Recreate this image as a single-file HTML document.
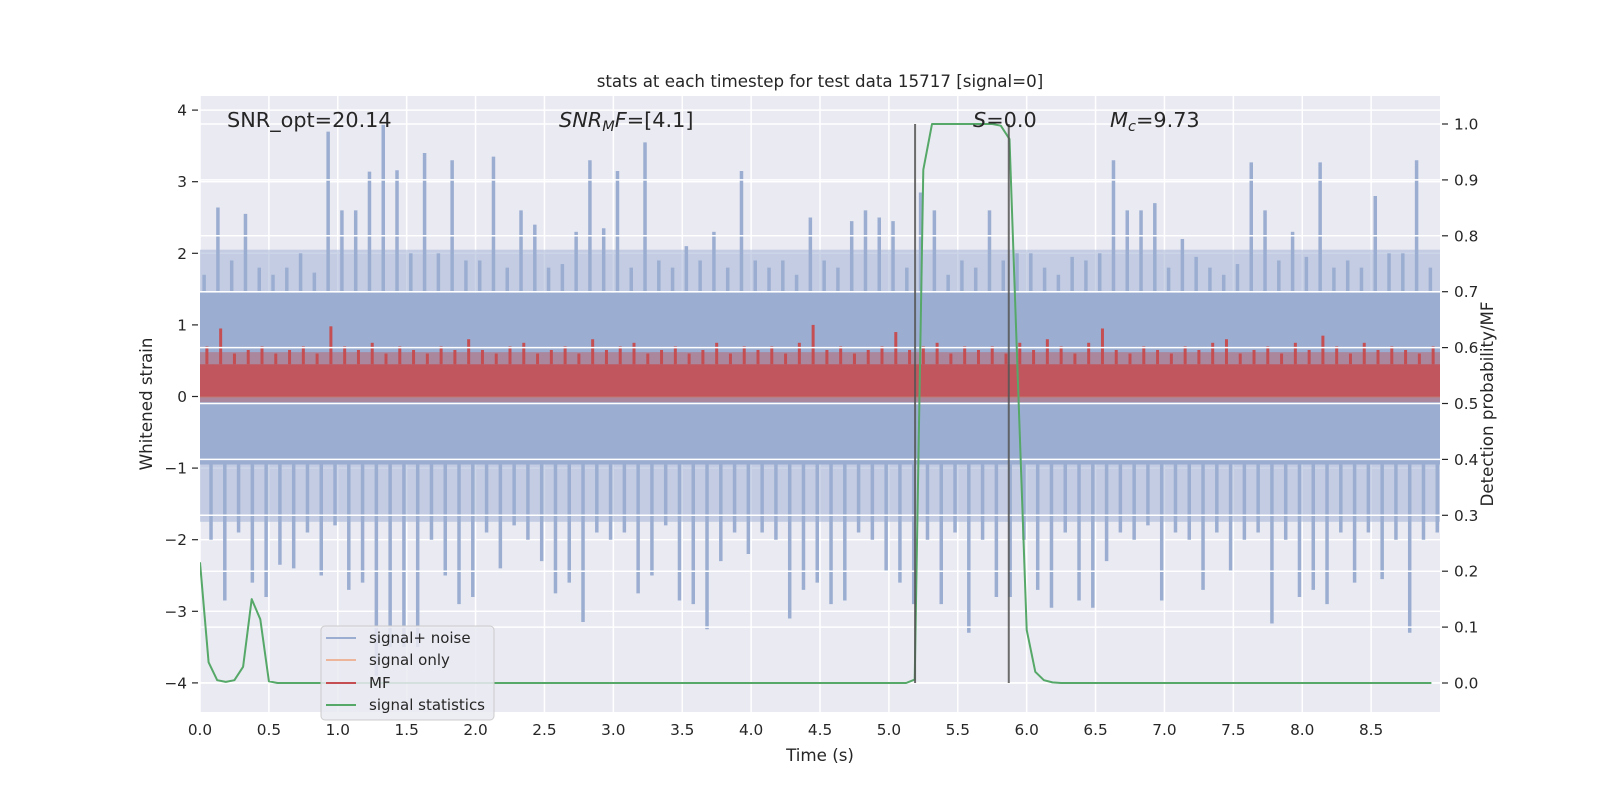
<!DOCTYPE html>
<html><head><meta charset="utf-8"><style>
html,body{margin:0;padding:0;background:#fff;}
svg{display:block;font-family:"DejaVu Sans","Liberation Sans",sans-serif;}
</style></head><body>
<svg id="chart" width="1600" height="800" viewBox="0 0 1600 800" xmlns="http://www.w3.org/2000/svg">
  <defs><clipPath id="clip"><rect x="200" y="96" width="1240" height="616"/></clipPath></defs>
  <rect x="200" y="96" width="1240" height="616" fill="#EAEAF2"/>
  <g id="gridL"></g>
  <g id="noise" clip-path="url(#clip)"></g>
  <g id="sig" clip-path="url(#clip)"></g>
  <g id="mf" clip-path="url(#clip)"></g>
  <g id="gridR"></g>
  <g id="stat" clip-path="url(#clip)"></g>
  <g id="vlines"></g>
  <g id="ticks" font-size="15.3" fill="#262626"></g>
  <text x="820" y="87" text-anchor="middle" font-size="16.7" fill="#262626">stats at each timestep for test data 15717 [signal=0]</text>
  <text x="820" y="761" text-anchor="middle" font-size="16.7" fill="#262626">Time (s)</text>
  <text transform="translate(152,404) rotate(-90)" text-anchor="middle" font-size="16.7" fill="#262626">Whitened strain</text>
  <text transform="translate(1493,404) rotate(-90)" text-anchor="middle" font-size="16.7" fill="#262626">Detection probability/MF</text>
  <g font-size="20.8" fill="#262626">
    <text x="227" y="127">SNR_opt=20.14</text>
    <text x="559" y="127"><tspan font-style="italic">SNR</tspan><tspan font-style="italic" font-size="14.5" dy="4">M</tspan><tspan font-style="italic" dy="-4">F</tspan>=[4.1]</text>
    <text x="973" y="127"><tspan font-style="italic">S</tspan>=0.0</text>
    <text x="1110" y="127"><tspan font-style="italic">M</tspan><tspan font-style="italic" font-size="14.5" dy="4">c</tspan><tspan dy="-4">=9.73</tspan></text>
  </g>
  <g>
    <rect x="321" y="626" width="173" height="94" rx="4" fill="#EAEAF2" fill-opacity="0.85" stroke="#cccccc"/>
    <g><line x1="326" y1="638" x2="356" y2="638" stroke="#9BAED1" stroke-width="2"/><text x="369" y="643" font-size="15" fill="#262626">signal+ noise</text></g>
    <g><line x1="326" y1="660" x2="356" y2="660" stroke="#EDB59A" stroke-width="2"/><text x="369" y="665" font-size="15" fill="#262626">signal only</text></g>
    <g><line x1="326" y1="683" x2="356" y2="683" stroke="#C44E52" stroke-width="2"/><text x="369" y="688" font-size="15" fill="#262626">MF</text></g>
    <g><line x1="326" y1="705" x2="356" y2="705" stroke="#55A868" stroke-width="2"/><text x="369" y="710" font-size="15" fill="#262626">signal statistics</text></g>
  </g>
</svg>
<script>
// ---- data ----
const noiseUpper = [1.7,2.64,1.9,2.55,1.8,1.7,1.8,2.0,1.73,3.7,
2.6,2.6,3.14,3.83,3.16,2.0,3.4,2.0,3.3,1.9,
1.9,3.35,1.8,2.6,2.4,1.8,1.85,2.3,3.3,2.35,
3.15,1.8,3.55,1.9,1.8,2.1,1.9,2.3,1.8,3.15,
1.9,1.8,1.9,1.7,2.5,1.9,1.8,2.45,2.6,2.5,
2.45,1.8,2.85,2.6,1.7,1.9,1.8,2.6,1.9,2.0,
2.0,1.8,1.7,1.95,1.9,2.0,3.3,2.6,2.6,2.7,
1.8,2.2,1.95,1.8,1.7,1.85,3.27,2.6,1.9,2.3,
1.95,3.27,1.8,1.9,1.8,2.8,2.0,2.0,3.3,1.8];
const noiseLower = [-2.0,-2.85,-1.9,-2.6,-2.8,-2.35,-2.4,-1.9,-2.5,-1.8,
-2.7,-2.6,-3.9,-3.5,-3.5,-3.5,-2.0,-2.5,-2.9,-2.8,
-1.9,-2.4,-1.8,-2.0,-2.3,-2.75,-2.6,-3.15,-1.9,-2.0,
-1.9,-2.75,-2.5,-1.8,-2.85,-2.9,-3.25,-2.3,-1.9,-2.2,
-1.9,-2.0,-3.1,-2.7,-2.6,-2.9,-2.85,-1.9,-2.0,-2.45,
-2.6,-2.9,-2.0,-2.9,-1.9,-3.3,-2.0,-2.8,-2.8,-2.0,
-2.7,-2.95,-1.9,-2.85,-2.95,-2.3,-1.9,-2.0,-1.8,-2.85,
-1.9,-2.0,-2.7,-1.9,-2.45,-2.0,-1.9,-3.17,-2.0,-2.8,
-2.7,-2.9,-1.9,-2.6,-1.9,-2.55,-2.0,-3.3,-2.0,-1.9];
const noiseCore = [-0.95, 1.45];
const noiseFringe = [-1.75, 2.05];
const mfPeak = [.7,.95,.6,.65,.7,.6,.65,.7,.6,.98,
.7,.65,.75,.6,.7,.65,.6,.7,.65,.8,
.65,.6,.7,.75,.6,.65,.7,.6,.8,.65,
.7,.75,.6,.65,.7,.6,.65,.75,.6,.7,
.65,.7,.6,.75,1.0,.65,.7,.6,.65,.7,
.9,.65,.7,.75,.6,.7,.65,.7,.6,.75,
.65,.8,.7,.6,.75,.95,.65,.6,.7,.65,
.6,.7,.65,.75,.8,.6,.65,.7,.6,.75,
.65,.85,.7,.6,.75,.65,.7,.65,.6,.7];
const mfCore = [0.0, 0.45];
const mfFringe = [-0.08, 0.62];
const binWidth = 0.1;
const statStep = 0.0625;
const statValues = [0.216,0.037,0.005,0.002,0.005,0.029,0.15,0.114,0.003,0,
0,0,0,0,0,0,0,0,0,0,
0,0,0,0,0,0,0,0,0,0,
0,0,0,0,0,0,0,0,0,0,
0,0,0,0,0,0,0,0,0,0,
0,0,0,0,0,0,0,0,0,0,
0,0,0,0,0,0,0,0,0,0,
0,0,0,0,0,0,0,0,0,0,
0,0,0,0.006,0.918,1.0,1.0,1.0,1.0,1.0,
1.0,1.0,1.0,0.997,0.973,0.53,0.095,0.02,0.005,0.001,
0,0,0,0,0,0,0,0,0,0,
0,0,0,0,0,0,0,0,0,0,
0,0,0,0,0,0,0,0,0,0,
0,0,0,0,0,0,0,0,0,0,
0,0,0,0];
const markerTimes = [5.19, 5.87];
const xTicks = [0,0.5,1,1.5,2,2.5,3,3.5,4,4.5,5,5.5,6,6.5,7,7.5,8,8.5];
const xTickLabels = ["0.0","0.5","1.0","1.5","2.0","2.5","3.0","3.5","4.0","4.5","5.0","5.5","6.0","6.5","7.0","7.5","8.0","8.5"];
const yLeftTicks = [-4,-3,-2,-1,0,1,2,3,4];
const yLeftLabels = ["\u22124","\u22123","\u22122","\u22121","0","1","2","3","4"];
const yRightTicks = [0,0.1,0.2,0.3,0.4,0.5,0.6,0.7,0.8,0.9,1.0];
const yRightLabels = ["0.0","0.1","0.2","0.3","0.4","0.5","0.6","0.7","0.8","0.9","1.0"];

// ---- scales ----
const X = t => 200 + t * 137.78;
const YL = v => 396.5 - v * 71.6;
const YR = v => 683 - v * 559;
const NS = "http://www.w3.org/2000/svg";
function mk(tag, attrs, parent){ const e = document.createElementNS(NS, tag); for (const k in attrs) e.setAttribute(k, attrs[k]); parent.appendChild(e); return e; }
const $ = id => document.getElementById(id);

// grids
xTicks.forEach(t => {
  const l = mk('line', {x1:X(t), x2:X(t), y1:96, y2:712, stroke:'#fff', 'stroke-width':1.5}, $('gridL'));
  
  
});
yLeftTicks.forEach(v => {
  const l = mk('line', {x1:200, x2:1440, y1:YL(v), y2:YL(v), stroke:'#fff', 'stroke-width':1.5}, $('gridL'));
  
  
});
yRightTicks.forEach(v => {
  const l = mk('line', {x1:200, x2:1440, y1:YR(v), y2:YR(v), stroke:'#fff', 'stroke-width':1.5}, $('gridR'));
  
  
});

// noise
const blue = '#9BAED1';
const fr = mk('rect', {x:200, y:YL(noiseFringe[1]), width:1240, height:YL(noiseFringe[0])-YL(noiseFringe[1]), fill:blue, 'fill-opacity':0.5}, $('noise'));


const core = mk('rect', {x:200, y:YL(noiseCore[1]), width:1240, height:YL(noiseCore[0])-YL(noiseCore[1]), fill:blue}, $('noise'));


noiseUpper.forEach((u, i) => {
  const a = mk('line', {x1:X(i*binWidth+0.03), x2:X(i*binWidth+0.03), y1:YL(noiseCore[1]), y2:YL(u), stroke:blue, 'stroke-width':3.5}, $('noise'));
  
  
  const b = mk('line', {x1:X(i*binWidth+0.08), x2:X(i*binWidth+0.08), y1:YL(noiseCore[0]), y2:YL(noiseLower[i]), stroke:blue, 'stroke-width':3.5}, $('noise'));
  
  
});

// signal only
const sl = mk('line', {x1:200, x2:1440, y1:YL(0), y2:YL(0), stroke:'#DD8452', 'stroke-opacity':0.55, 'stroke-width':2}, $('sig'));



// MF
const red = '#C44E52';
const mfr = mk('rect', {x:200, y:YL(mfFringe[1]), width:1240, height:YL(mfFringe[0])-YL(mfFringe[1]), fill:red, 'fill-opacity':0.4}, $('mf'));


const mc = mk('rect', {x:200, y:YL(mfCore[1]), width:1240, height:YL(mfCore[0])-YL(mfCore[1]), fill:red, 'fill-opacity':0.85}, $('mf'));


mfPeak.forEach((p, i) => {
  const s = mk('line', {x1:X(i*binWidth+0.05), x2:X(i*binWidth+0.05), y1:YL(mfCore[1]), y2:YL(p), stroke:red, 'stroke-width':3}, $('mf'));
  
  
});

// statistics
const pts = statValues.map((v, k) => X(k*statStep).toFixed(1) + ',' + YR(v).toFixed(1));
const gl = mk('polyline', {points:pts.join(' '), fill:'none', stroke:'#55A868', 'stroke-width':2, 'stroke-linejoin':'round'}, $('stat'));



// markers
markerTimes.forEach(t => {
  const l = mk('line', {x1:X(t), x2:X(t), y1:YR(1), y2:YR(0), stroke:'#555', 'stroke-opacity':0.85, 'stroke-width':2}, $('vlines'));
  
  
});

// ticks
xTicks.forEach((t, i) => {
  const e = mk('text', {x:X(t), y:735, 'text-anchor':'middle'}, $('ticks'));
  e.textContent = xTickLabels[i];
  
  
});
yLeftTicks.forEach((v, i) => {
  const m = mk('line', {x1:192, x2:198, y1:YL(v), y2:YL(v), stroke:'#262626', 'stroke-width':1.2}, $('ticks'));
  
  
  const e = mk('text', {x:187, y:YL(v)+5.5, 'text-anchor':'end'}, $('ticks'));
  e.textContent = yLeftLabels[i];
  
  
});
yRightTicks.forEach((v, i) => {
  const m = mk('line', {x1:1442, x2:1448, y1:YR(v), y2:YR(v), stroke:'#262626', 'stroke-width':1.2}, $('ticks'));
  
  
  const e = mk('text', {x:1454, y:YR(v)+5.5, 'text-anchor':'start'}, $('ticks'));
  e.textContent = yRightLabels[i];
  
  
});
</script>
</body></html>
